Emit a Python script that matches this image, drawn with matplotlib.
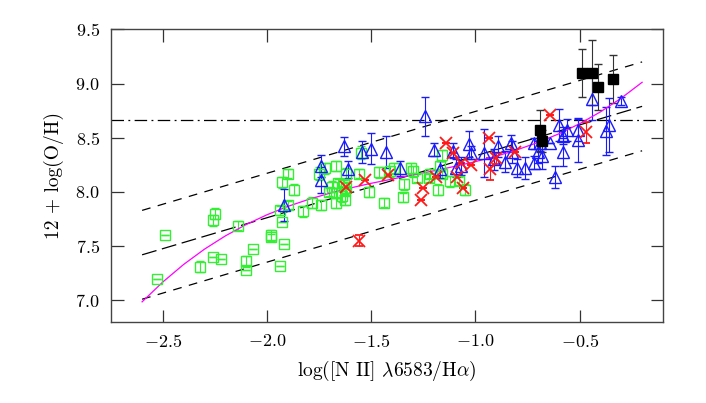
import matplotlib
matplotlib.use("Agg")
import matplotlib.pyplot as plt
import numpy as np

plt.rcParams['font.family'] = 'serif'
plt.rcParams['font.serif'] = ['cmr10', 'DejaVu Serif']
plt.rcParams['mathtext.fontset'] = 'cm'
plt.rcParams['axes.formatter.use_mathtext'] = True

# ---- data ----
green_x = [-2.53, -2.49, -2.32, -2.26, -2.22, -2.25, -2.26, -2.14, -2.07, -2.10, -2.10,
           -1.98, -1.98, -1.92, -1.94, -1.93, -1.90, -1.87, -1.94, -1.93, -1.90, -1.83,
           -1.785, -1.74, -1.75, -1.72, -1.67, -1.62, -1.69, -1.67, -1.705, -1.64, -1.625,
           -1.66, -1.62, -1.67, -1.63, -1.625, -1.56, -1.55, -1.51, -1.44, -1.465, -1.39,
           -1.35, -1.345, -1.31, -1.30, -1.28, -1.22, -1.225, -1.16, -1.16, -1.17, -1.12,
           -1.18, -1.05, -1.08, -1.41]
green_y = [7.20, 7.60, 7.31, 7.40, 7.38, 7.80, 7.74, 7.69, 7.47, 7.36, 7.28,
           7.60, 7.58, 7.52, 7.32, 8.09, 8.17, 8.02, 7.83, 7.72, 7.88, 7.82,
           7.90, 7.88, 8.17, 8.22, 8.24, 8.17, 8.05, 7.99, 8.00, 7.96, 7.93,
           8.08, 8.04, 7.90, 8.07, 8.01, 8.17, 8.36, 8.00, 7.90, 8.18, 8.22,
           7.95, 8.07, 8.22, 8.19, 8.13, 8.17, 8.13, 8.17, 8.34, 8.24, 8.10,
           8.02, 8.02, 8.10, 8.19]
green_err = [0, 0, 0.05, 0, 0, 0.05, 0.05, 0.04, 0, 0.05, 0,
             0.05, 0.03, 0, 0, 0.05, 0.04, 0.05, 0.04, 0, 0.04, 0.05,
             0.05, 0.05, 0.06, 0.05, 0.05, 0.05, 0.05, 0.05, 0.04, 0.05, 0.05,
             0.04, 0.05, 0.05, 0.04, 0.04, 0.04, 0.06, 0.05, 0.04, 0.05, 0.05,
             0.04, 0.05, 0.05, 0.05, 0.04, 0.04, 0.04, 0.04, 0.05, 0.05, 0.05,
             0.05, 0.05, 0.04, 0.05]

blue_x = [-1.92, -1.74, -1.74, -1.63, -1.61, -1.545, -1.50, -1.43, -1.36, -1.24, -1.20,
          -1.11, -1.03, -1.02, -0.96, -0.89, -0.83, -0.825, -0.86, -0.91, -0.80, -0.76,
          -0.72, -1.07, -1.095, -1.17, -0.70, -0.69, -0.68, -0.64, -0.62, -0.60, -0.58,
          -0.58, -0.56, -0.51, -0.51, -0.44, -0.375, -0.36, -0.30, -0.72]
blue_y = [7.88, 8.24, 8.11, 8.42, 8.21, 8.37, 8.40, 8.37, 8.22, 8.70, 8.39,
          8.38, 8.44, 8.36, 8.36, 8.42, 8.45, 8.37, 8.28, 8.30, 8.22, 8.22,
          8.27, 8.24, 8.22, 8.21, 8.37, 8.45, 8.33, 8.45, 8.14, 8.62, 8.52,
          8.37, 8.57, 8.57, 8.48, 8.86, 8.56, 8.62, 8.84, 8.45]
blue_err = [0.15, 0.10, 0.12, 0.085, 0.08, 0.10, 0.14, 0.15, 0.07, 0.18, 0.06,
            0.07, 0.12, 0.06, 0.22, 0.10, 0.08, 0.10, 0.10, 0.10, 0.08, 0.10,
            0.06, 0.08, 0.08, 0.08, 0.10, 0.08, 0.12, 0.0, 0.10, 0.15, 0.08,
            0.13, 0.10, 0.10, 0.20, 0.20, 0.22, 0.25, 0.04, 0.05]

red_x = [-1.62, -1.53, -1.42, -1.56, -1.25, -1.26, -1.19, -1.14, -1.11, -1.09, -1.07,
         -1.06, -1.02, -0.935, -0.93, -0.90, -0.81, -0.64, -0.47]
red_y = [8.05, 8.11, 8.16, 7.55, 8.04, 7.93, 8.14, 8.45, 8.36, 8.14, 8.27,
         8.04, 8.25, 8.50, 8.21, 8.31, 8.37, 8.71, 8.55]
red_err = [0, 0, 0, 0.05, 0, 0, 0, 0, 0, 0, 0,
           0, 0, 0, 0.10, 0.05, 0, 0, 0.10]

black_x = [-0.69, -0.68, -0.49, -0.44, -0.41, -0.34]
black_y = [8.57, 8.47, 9.10, 9.10, 8.97, 9.04]
black_err = [0.19, 0.10, 0.22, 0.30, 0.21, 0.22]

# linear calibration lines (endpoints)
lin_x = [-2.6, -0.2]
lin_mid = [7.42, 8.79]
lin_up = [7.83, 9.20]
lin_lo = [7.01, 8.38]
solar = 8.66

# magenta curve samples
curve_x = [-2.6, -2.5, -2.4, -2.3, -2.2, -2.1, -2.0, -1.9, -1.8, -1.7, -1.6, -1.5, -1.4,
           -1.3, -1.2, -1.1, -1.0, -0.9, -0.8, -0.7, -0.6, -0.5, -0.4, -0.3, -0.2]
curve_y = [6.986, 7.170, 7.332, 7.473, 7.595, 7.700, 7.790, 7.867, 7.932, 7.988, 8.037,
           8.080, 8.119, 8.157, 8.195, 8.236, 8.280, 8.330, 8.389, 8.457, 8.536, 8.630,
           8.739, 8.866, 9.012]

xticks = [-2.5, -2.0, -1.5, -1.0, -0.5]
yticks = [7.0, 7.5, 8.0, 8.5, 9.0, 9.5]

# ---- plot ----
fig = plt.figure(figsize=(7.06, 4.03), dpi=100)
ax = fig.add_axes([0.157, 0.201, 0.782, 0.726])

green = '#33f033'
blue = '#1a1aff'
red = '#ff1a1a'

ax.axhline(solar, color='black', lw=0.9, dashes=(10, 3.5, 1.5, 3.5))
ax.plot(lin_x, lin_mid, color='black', lw=0.9, dashes=(12, 4.5))
ax.plot(lin_x, lin_up, color='black', lw=0.9, dashes=(7, 6))
ax.plot(lin_x, lin_lo, color='black', lw=0.9, dashes=(7, 6))

ekw = dict(elinewidth=0.8, capsize=3, capthick=0.8, linestyle='none')
ax.errorbar(green_x, green_y, yerr=green_err, fmt='s', mfc='none', mec=green,
            ecolor=green, ms=7, mew=1.0, **ekw)
ax.errorbar(blue_x, blue_y, yerr=blue_err, fmt='^', mfc='none', mec=blue,
            ecolor=blue, ms=8.5, mew=1.0, **ekw)
ax.errorbar(red_x, red_y, yerr=red_err, fmt='x', mfc='none', mec=red,
            ecolor=red, ms=8.5, mew=1.3, **ekw)
ax.errorbar(black_x, black_y, yerr=black_err, fmt='s', mfc='black', mec='black',
            ecolor='#333333', ms=7, mew=1.0, **ekw)

ax.plot(curve_x, curve_y, color='#ff00ff', lw=0.9)

ax.set_xlim(-2.75, -0.1)
ax.set_ylim(6.8, 9.5)
ax.set_xticks(xticks)
ax.set_yticks(yticks)
ax.set_xticklabels([f'$-{abs(v):.1f}$' for v in xticks])
ax.set_yticklabels([f'${v:.1f}$' for v in yticks])
ax.tick_params(direction='in', length=9, width=0.9, top=True, right=True,
               labelsize=13, colors='#333333', labelcolor='black', pad=8)
for s in ax.spines.values():
    s.set_color('#444444')
    s.set_linewidth(1.0)

ax.set_xlabel(r'log([N II] $\lambda$6583/H$\alpha$)', fontsize=14, labelpad=6)
ax.set_ylabel('12 + log(O/H)', fontsize=14, labelpad=8)

fig.savefig('out.png', dpi=100)
